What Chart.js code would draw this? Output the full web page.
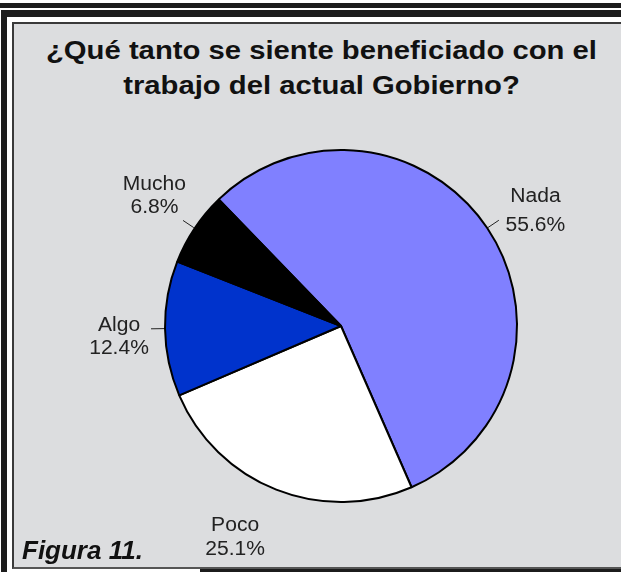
<!DOCTYPE html>
<html>
<head>
<meta charset="utf-8">
<script src="https://cdn.jsdelivr.net/npm/chart.js@4/dist/chart.umd.min.js"></script>
<style>
  html, body { margin: 0; padding: 0; background: #fff; }
  body { width: 621px; height: 572px; position: relative; overflow: hidden; font-family: "Liberation Sans", Arial, sans-serif; }
  .band { position: absolute; background: #1c1c1c; }
  #panel { position: absolute; left: 12px; top: 22px; width: 615px; height: 543px; background: #dcdddf; border-left: 2px solid #3a3a3a; border-top: 2px solid #3a3a3a; border-bottom: 2px solid #555; }
  #title { position: absolute; left: 18px; width: 607px; top: 33px; text-align: center; font-weight: bold; font-size: 25px; line-height: 35px; color: #111; transform: scaleX(1.17); transform-origin: 50% 0; }
  #figura { position: absolute; left: 22px; top: 535px; font-weight: bold; font-style: italic; font-size: 26px; color: #111; }
  canvas { position: absolute; left: 0; top: 0; }
</style>
</head>
<body>
<div class="band" style="left:0;top:3px;width:621px;height:5px"></div>
<div class="band" style="left:1px;top:10px;width:620px;height:7px"></div>
<div class="band" style="left:1px;top:10px;width:6px;height:562px"></div>
<div class="band" style="left:200px;top:568px;width:421px;height:4px"></div>
<div id="panel"></div>
<div id="title">¿Qué tanto se siente beneficiado con el<br>trabajo del actual Gobierno?</div>
<canvas id="chart" width="621" height="572"></canvas>
<div id="figura">Figura 11.</div>
<script>
// data
var categories = ["Nada", "Poco", "Algo", "Mucho"];
var percentages = [55.6, 25.1, 12.4, 6.8];
var sliceColors = ["#8080ff", "#ffffff", "#0033cc", "#000000"];

// label placement tweaks (px), one per slice
var labelNudge = [[5, 12], [-22, 0], [6, 8], [3, -3]];
var lineGap = [29, 24, 23, 23];
var showLeader = [true, false, true, true];

var outsideLabels = {
  id: "outsideLabels",
  afterDatasetsDraw: function(chart) {
    var ctx = chart.ctx;
    var arcs = chart.getDatasetMeta(0).data;
    ctx.save();
    ctx.font = "19.5px 'Liberation Sans', Arial, sans-serif";
    ctx.fillStyle = "#222";
    ctx.strokeStyle = "#222";
    ctx.lineWidth = 1;
    ctx.textAlign = "center";
    ctx.textBaseline = "middle";
    arcs.forEach(function(arc, i) {
      var p = arc.getProps(["x", "y", "startAngle", "endAngle", "outerRadius"], true);
      var mid = (p.startAngle + p.endAngle) / 2;
      var dx = Math.cos(mid), dy = Math.sin(mid);
      var r = p.outerRadius;
      if (showLeader[i]) {
        ctx.beginPath();
        ctx.moveTo(p.x + dx * (r + 1), p.y + dy * (r + 1));
        ctx.lineTo(p.x + dx * (r + 14), p.y + dy * (r + 14));
        ctx.stroke();
      }
      var cx = p.x + dx * (r + 52) + labelNudge[i][0];
      var cy = p.y + dy * (r + 52) + labelNudge[i][1];
      ctx.save();
      ctx.translate(cx, cy);
      ctx.scale(1.08, 1);
      ctx.fillText(categories[i], 0, -lineGap[i] / 2);
      ctx.fillText(percentages[i].toFixed(1) + "%", 0, lineGap[i] / 2);
      ctx.restore();
    });
    ctx.restore();
  }
};

var chart = new Chart(document.getElementById("chart").getContext("2d"), {
  type: "pie",
  data: {
    labels: categories,
    datasets: [{
      data: percentages,
      backgroundColor: sliceColors,
      borderColor: "#000",
      borderWidth: 2
    }]
  },
  options: {
    responsive: false,
    animation: false,
    rotation: -44,
    layout: { padding: { left: 164, right: 103, top: 149, bottom: 69 } },
    plugins: {
      legend: { display: false },
      tooltip: { enabled: false },
      title: { display: false }
    }
  },
  plugins: [outsideLabels]
});
</script>
</body>
</html>
